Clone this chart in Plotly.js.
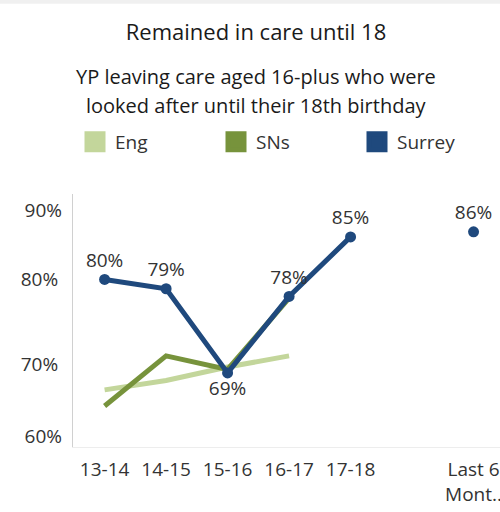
<!DOCTYPE html>
<html>
<head>
<meta charset="utf-8">
<script src="https://cdn.plot.ly/plotly-3.0.1.min.js"></script>
<style>html,body{margin:0;padding:0;background:#fff;}#chart{width:500px;height:512px;}</style>
</head>
<body>
<div id="chart"></div>
<script>
// ---- data ----
const categories = ['13-14', '14-15', '15-16', '16-17', '17-18', '', 'Last 6<br>Mont..'];
const xIndex = [0, 1, 2, 3, 4, 5, 6];
const engValues = [67.0, 68.1, 69.7, 71.0, null, null, null];
const snsValues = [65.1, 71.0, 69.4, 77.8, null, null, null];
const surreyValues = [80.0, 78.9, 69.0, 78.0, 85.0, null, 85.6];
const surreyLabelPos = ['top center', 'top center', 'bottom center', 'top center', 'top center', 'top center', 'top center'];
const seriesNames = ['Eng', 'SNs', 'Surrey'];
const seriesColors = ['#c3d69b', '#77933c', '#1f497d'];
const tickVals = [0, 1, 2, 3, 4, 6];
const tickText = ['13-14', '14-15', '15-16', '16-17', '17-18', 'Last 6<br>Mont..'];
const yTickVals = [70, 80];
const yTickText = ['70%', '80%'];
const yEdgeTickVals = [60, 90];
const yEdgeTickText = ['60%', '90%'];

const FONT = 'Open Sans, Noto Sans, sans-serif';
const TXT = '#333333';

const traces = [
  {x: xIndex, y: engValues, type: 'scatter', mode: 'lines', name: seriesNames[0],
   line: {color: seriesColors[0], width: 5}, showlegend: false, hoverinfo: 'skip'},
  {x: xIndex, y: snsValues, type: 'scatter', mode: 'lines', name: seriesNames[1],
   line: {color: seriesColors[1], width: 5}, showlegend: false, hoverinfo: 'skip'},
  {x: xIndex, y: surreyValues, type: 'scatter', mode: 'lines+markers+text', name: seriesNames[2],
   line: {color: seriesColors[2], width: 5}, marker: {color: seriesColors[2], size: 11},
   texttemplate: '%{y:.0f}%', textposition: surreyLabelPos,
   textfont: {family: FONT, size: 19, color: TXT}, showlegend: false, hoverinfo: 'skip'},
  // invisible trace to activate the secondary (edge) tick axis
  {x: [null], y: [null], yaxis: 'y2', type: 'scatter', mode: 'markers', showlegend: false, hoverinfo: 'skip'}
];
// legend entries
seriesNames.forEach((n, i) => {
  traces.push({x: [null], y: [null], type: 'scatter', mode: 'markers', name: n,
    marker: {symbol: 'square', size: 24, color: seriesColors[i], line: {color: seriesColors[i], width: 5}},
    showlegend: true, hoverinfo: 'skip'});
});

const layout = {
  width: 500, height: 512,
  margin: {l: 73, r: 0, t: 194, b: 65, pad: 0},
  paper_bgcolor: '#ffffff', plot_bgcolor: '#ffffff',
  font: {family: FONT, color: TXT},
  title: {text: 'Remained in care until 18', x: 0.512, xanchor: 'center', y: 1 - 32 / 512, yanchor: 'middle',
          font: {family: FONT, size: 22, color: '#1a1a1a'}},
  showlegend: true,
  legend: {orientation: 'h', xref: 'container', yref: 'container', x: 0.15, xanchor: 'left',
           y: 1 - 142 / 512, yanchor: 'middle', entrywidth: 96, entrywidthmode: 'pixels',
           font: {family: FONT, size: 19, color: TXT}, bgcolor: 'rgba(0,0,0,0)', itemclick: false},
  xaxis: {range: [-0.514, 6.43], tickmode: 'array', tickvals: tickVals, ticktext: tickText,
          showline: true, linecolor: '#ededed', linewidth: 1, showgrid: false, zeroline: false,
          ticks: '', tickfont: {family: FONT, size: 19, color: TXT}, ticklabelstandoff: 5,
          ticklabeloverflow: 'allow', fixedrange: true},
  yaxis: {range: [60.28, 90.05], tickmode: 'array', tickvals: yTickVals, ticktext: yTickText,
          showline: true, linecolor: '#d0d0d0', linewidth: 1, showgrid: false, zeroline: false,
          ticks: '', tickfont: {family: FONT, size: 19, color: TXT}, ticklabelstandoff: 10, fixedrange: true},
  yaxis2: {overlaying: 'y', side: 'left', anchor: 'x', range: [58.58, 92.22], tickmode: 'array',
           tickvals: yEdgeTickVals, ticktext: yEdgeTickText, showline: false, showgrid: false, zeroline: false, ticks: '',
           tickfont: {family: FONT, size: 19, color: TXT}, ticklabelstandoff: 10, fixedrange: true},
  annotations: [
    {text: 'YP leaving care aged 16-plus who were', xref: 'paper', yref: 'paper', x: 0.4286, y: 1 + (194 - 77) / 252.7,
     xanchor: 'center', yanchor: 'middle', showarrow: false, font: {family: FONT, size: 20, color: '#1a1a1a'}},
    {text: 'looked after until their 18th birthday', xref: 'paper', yref: 'paper', x: 0.4286, y: 1 + (194 - 106) / 252.7,
     xanchor: 'center', yanchor: 'middle', showarrow: false, font: {family: FONT, size: 20, color: '#1a1a1a'}}
  ],
  shapes: [
    {type: 'rect', xref: 'paper', yref: 'paper', x0: -0.2, x1: 1.01, y0: 1 + (194 - 4) / 252.7, y1: 1 + 194 / 252.7,
     fillcolor: '#f0f0f0', line: {width: 0}, layer: 'below'}
  ]
};

Plotly.newPlot('chart', traces, layout, {displayModeBar: false, staticPlot: true});
</script>
</body>
</html>
